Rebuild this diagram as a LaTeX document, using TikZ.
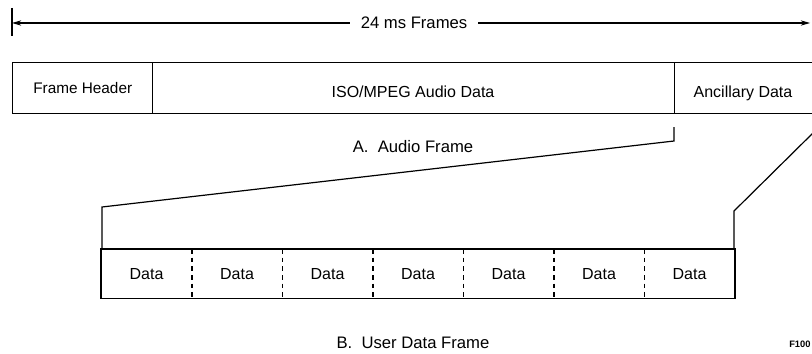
\documentclass[tikz,border=0pt]{standalone}
\usepackage{fontspec}
\setmainfont{Liberation Sans}
\usetikzlibrary{arrows.meta}
\begin{document}
\begin{tikzpicture}[x=0.75pt,y=-0.75pt,
  box/.style={draw,line width=1.1pt,inner sep=0pt,anchor=north west,minimum height=51*0.75pt},
  cell/.style={inner sep=0pt,anchor=north west,minimum width=90.5*0.75pt,minimum height=49*0.75pt,font=\fontsize{12}{14}\selectfont},
  lbl/.style={font=\fontsize{12}{14}\selectfont,anchor=base,inner sep=0pt},
  captext/.style={font=\fontsize{12.5}{15}\selectfont},
  conn/.style={line width=0.9pt},
  divider/.style={line width=1.1pt,dash pattern=on 3.5pt off 3pt}]
\useasboundingbox (0,0) rectangle (812,353);
\fill[white] (0,0) rectangle (812,353);
% top dimension
\coordinate (tl) at (12,23);
\coordinate (tr) at (810,23);
\draw[line width=0.9pt] (12,8) -- (12,36);
\draw[line width=0.8pt,{Stealth[length=7pt,width=4pt]}-{Stealth[length=7pt,width=4pt]}] (tl) -- (tr);
\node[fill=white,inner xsep=8pt,font=\fontsize{12.5}{15}\selectfont] (ms) at (414,23) {24 ms Frames};
% audio frame
\node[box,minimum width=140*0.75pt] (fh) at (12,62) {};
\node[box,minimum width=522*0.75pt] (iso) at (152,62) {};
\node[box,minimum width=142*0.75pt] (anc) at (674,62) {};
\node[lbl,font=\fontsize{11.5}{14}\selectfont] (fhT) at (fh.center |- 0,93) {Frame Header};
\node[lbl] (isoT) at (413,97) {ISO/MPEG Audio Data};
\node[lbl] (ancT) at (743,97.5) {Ancillary Data};
\node[captext] (capA) at (413,147) {A.\ \ Audio Frame};
% user data frame
\foreach \i in {0,...,6}{
  \node[cell] (d\i) at (101+\i*90.5,249) {Data};
}
\draw[line width=1.1pt] (d0.north west) rectangle (d6.south east);
\foreach \i in {0,...,5}{
  \draw[divider] (d\i.north east) -- (d\i.south east);
}
\node[captext] (capB) at (413,343) {B.\ \ User Data Frame};
\node[font=\fontsize{7}{8}\selectfont\bfseries,anchor=west,inner sep=0pt] (fig) at (789,344) {F100};
% connectors
\coordinate (a1) at (674,127);
\coordinate (a2) at (674,141);
\coordinate (a3) at (102,207);
\draw[conn] (a1) -- (a2) -- (a3) -- (a3 |- d0.north);
\coordinate (b1) at (815,131);
\coordinate (b2) at (734,211);
\draw[conn] (b1) -- (b2) -- (b2 |- d6.north);
\end{tikzpicture}
\end{document}
